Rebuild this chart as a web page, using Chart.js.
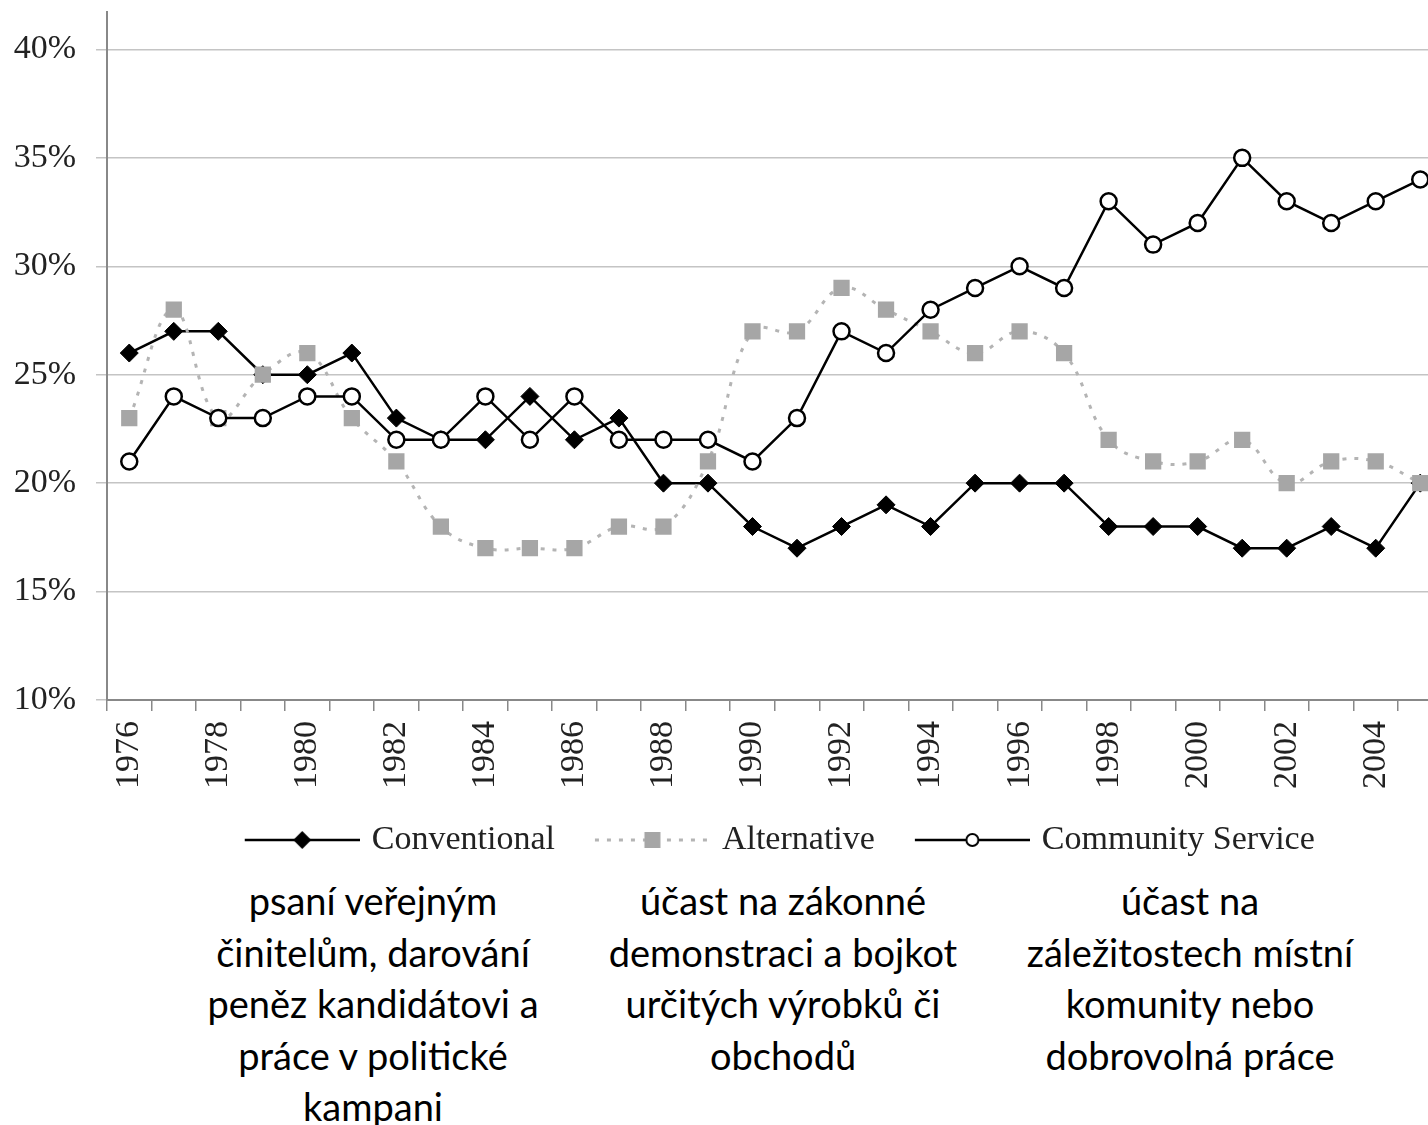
<!DOCTYPE html>
<html>
<head>
<meta charset="utf-8">
<script src="https://cdn.jsdelivr.net/npm/chart.js@4.4.1/dist/chart.umd.min.js"></script>
<style>
  html, body { margin: 0; padding: 0; background: #fff; overflow: hidden; }
  body { width: 1428px; height: 1125px; position: relative; }
  #wrap { position: absolute; left: 0; top: 0; width: 1454px; height: 867px; }
  .note {
    position: absolute; width: 440px; margin-left: -220px; top: 875px;
    font-family: Lato, "Open Sans", sans-serif; font-size: 38px; line-height: 51.5px;
    text-align: center; color: #000;
  }
</style>
</head>
<body>
<div id="wrap"><canvas id="chart"></canvas></div>
<div class="note" style="left:373px">psaní veřejným<br>činitelům, darování<br>peněz kandidátovi a<br>práce v politické<br>kampani</div>
<div class="note" style="left:783px">účast na zákonné<br>demonstraci a bojkot<br>určitých výrobků či<br>obchodů</div>
<div class="note" style="left:1190px">účast na<br>záležitostech místní<br>komunity nebo<br>dobrovolná práce</div>
<script>
const years = ['1976','1977','1978','1979','1980','1981','1982','1983','1984','1985',
  '1986','1987','1988','1989','1990','1991','1992','1993','1994','1995',
  '1996','1997','1998','1999','2000','2001','2002','2003','2004','2005'];

const conventional = [26,27,27,25,25,26,23,22,22,24,22,23,20,20,18,17,18,19,18,20,20,20,18,18,18,17,17,18,17,20];
const alternative  = [23,28,23,25,26,23,21,18,17,17,17,18,18,21,27,27,29,28,27,26,27,26,22,21,21,22,20,21,21,20];
const community    = [21,24,23,23,24,24,22,22,24,22,24,22,22,22,21,23,27,26,28,29,30,29,33,31,32,35,33,32,33,34];

const seriesNames = ['Conventional', 'Alternative', 'Community Service'];
const yTicks = [10, 15, 20, 25, 30, 35, 40];

const serif = 'Liberation Serif';

// small canvases used as legend symbols (line + marker)
// canvas is 130 wide, the symbol line sits at 15..130 so the gaps around it match the picture
function legendSymbol(kind) {
  const c = document.createElement('canvas');
  c.width = 130; c.height = 24;
  const g = c.getContext('2d');
  const a = 15, mid = a + 57.5;
  g.lineWidth = kind === 'alt' ? 3 : 2.5;
  g.strokeStyle = kind === 'alt' ? '#b4b4b4' : '#000';
  if (kind === 'alt') g.setLineDash([4, 8]);
  g.beginPath(); g.moveTo(a, 12); g.lineTo(a + 115, 12); g.stroke();
  g.setLineDash([]);
  if (kind === 'conv') {
    g.fillStyle = '#000';
    g.beginPath(); g.moveTo(mid - 9, 12); g.lineTo(mid, 3); g.lineTo(mid + 9, 12); g.lineTo(mid, 21); g.closePath(); g.fill();
  } else if (kind === 'alt') {
    g.fillStyle = '#a6a6a6';
    g.fillRect(mid - 8, 4, 16, 16);
  } else {
    g.fillStyle = '#fff'; g.lineWidth = 2;
    g.beginPath(); g.arc(mid, 12, 6, 0, Math.PI * 2); g.fill(); g.stroke();
  }
  return c;
}
const symbols = [legendSymbol('conv'), legendSymbol('alt'), legendSymbol('comm')];

// legend is centred under the plot area, not the canvas
const shiftLegend = {
  id: 'shiftLegend',
  afterLayout(chart) {
    const lg = chart.legend;
    const dx = (chart.chartArea.left + chart.chartArea.right) / 2 - chart.width / 2;
    lg.left += dx; lg.right += dx;
  }
};

new Chart(document.getElementById('chart'), {
  type: 'line',
  data: {
    labels: years,
    datasets: [
      {
        label: seriesNames[0], data: conventional, order: 3,
        borderColor: '#000', borderWidth: 2.5, tension: 0,
        pointStyle: 'rectRot', pointRadius: 9, pointHoverRadius: 9,
        pointBackgroundColor: '#000', pointBorderColor: '#000', pointBorderWidth: 1
      },
      {
        label: seriesNames[1], data: alternative, order: 2,
        borderColor: '#b4b4b4', borderWidth: 3, borderDash: [4, 8], tension: 0.4,
        pointStyle: 'rect', pointRadius: 11.5, pointHoverRadius: 11.5,
        pointBackgroundColor: '#a6a6a6', pointBorderWidth: 0
      },
      {
        label: seriesNames[2], data: community, order: 1,
        borderColor: '#000', borderWidth: 2.5, tension: 0,
        pointStyle: 'circle', pointRadius: 8, pointHoverRadius: 8,
        pointBackgroundColor: '#fff', pointBorderColor: '#000', pointBorderWidth: 2.5
      }
    ]
  },
  options: {
    responsive: true,
    maintainAspectRatio: false,
    animation: false,
    layout: { padding: { top: 10, left: 0, right: 0, bottom: 0 } },
    plugins: {
      tooltip: { enabled: false },
      legend: {
        position: 'bottom',
        labels: {
          usePointStyle: true,
          pointStyleWidth: 120,
          boxHeight: 24,
          padding: 30,
          color: '#222',
          font: { family: serif, size: 34 },
          generateLabels: (chart) => seriesNames.map((name, i) => ({
            text: name, pointStyle: symbols[i], datasetIndex: i,
            fillStyle: '#fff', strokeStyle: '#fff', lineWidth: 0, fontColor: '#222'
          }))
        }
      }
    },
    scales: {
      x: {
        offset: true,
        grid: { offset: true, drawOnChartArea: false, drawTicks: true, tickLength: 11, color: '#888', lineWidth: 1.5 },
        border: { color: '#888', width: 2 },
        afterFit: (scale) => { scale.height = 93; scale.paddingLeft = 0; scale.paddingRight = 0; },
        ticks: {
          autoSkip: false, maxRotation: 90, minRotation: 90, padding: 10,
          color: '#222', font: { family: serif, size: 34 },
          callback: function (value, index) {
            const y = years[index];
            return Number(y) % 2 === 0 ? y : '';
          }
        }
      },
      y: {
        min: 10, max: 41.75,
        afterBuildTicks: (scale) => { scale.ticks = yTicks.map(v => ({ value: v })); },
        afterFit: (scale) => { scale.width = 107; scale.paddingTop = 0; scale.paddingBottom = 0; },
        grid: { color: '#c4c4c4', lineWidth: 1.5, tickLength: 11 },
        border: { color: '#888', width: 2 },
        ticks: {
          padding: 20, color: '#222', font: { family: serif, size: 34 },
          callback: (v) => v + '%'
        }
      }
    }
  },
  plugins: [shiftLegend]
});
</script>
</body>
</html>
